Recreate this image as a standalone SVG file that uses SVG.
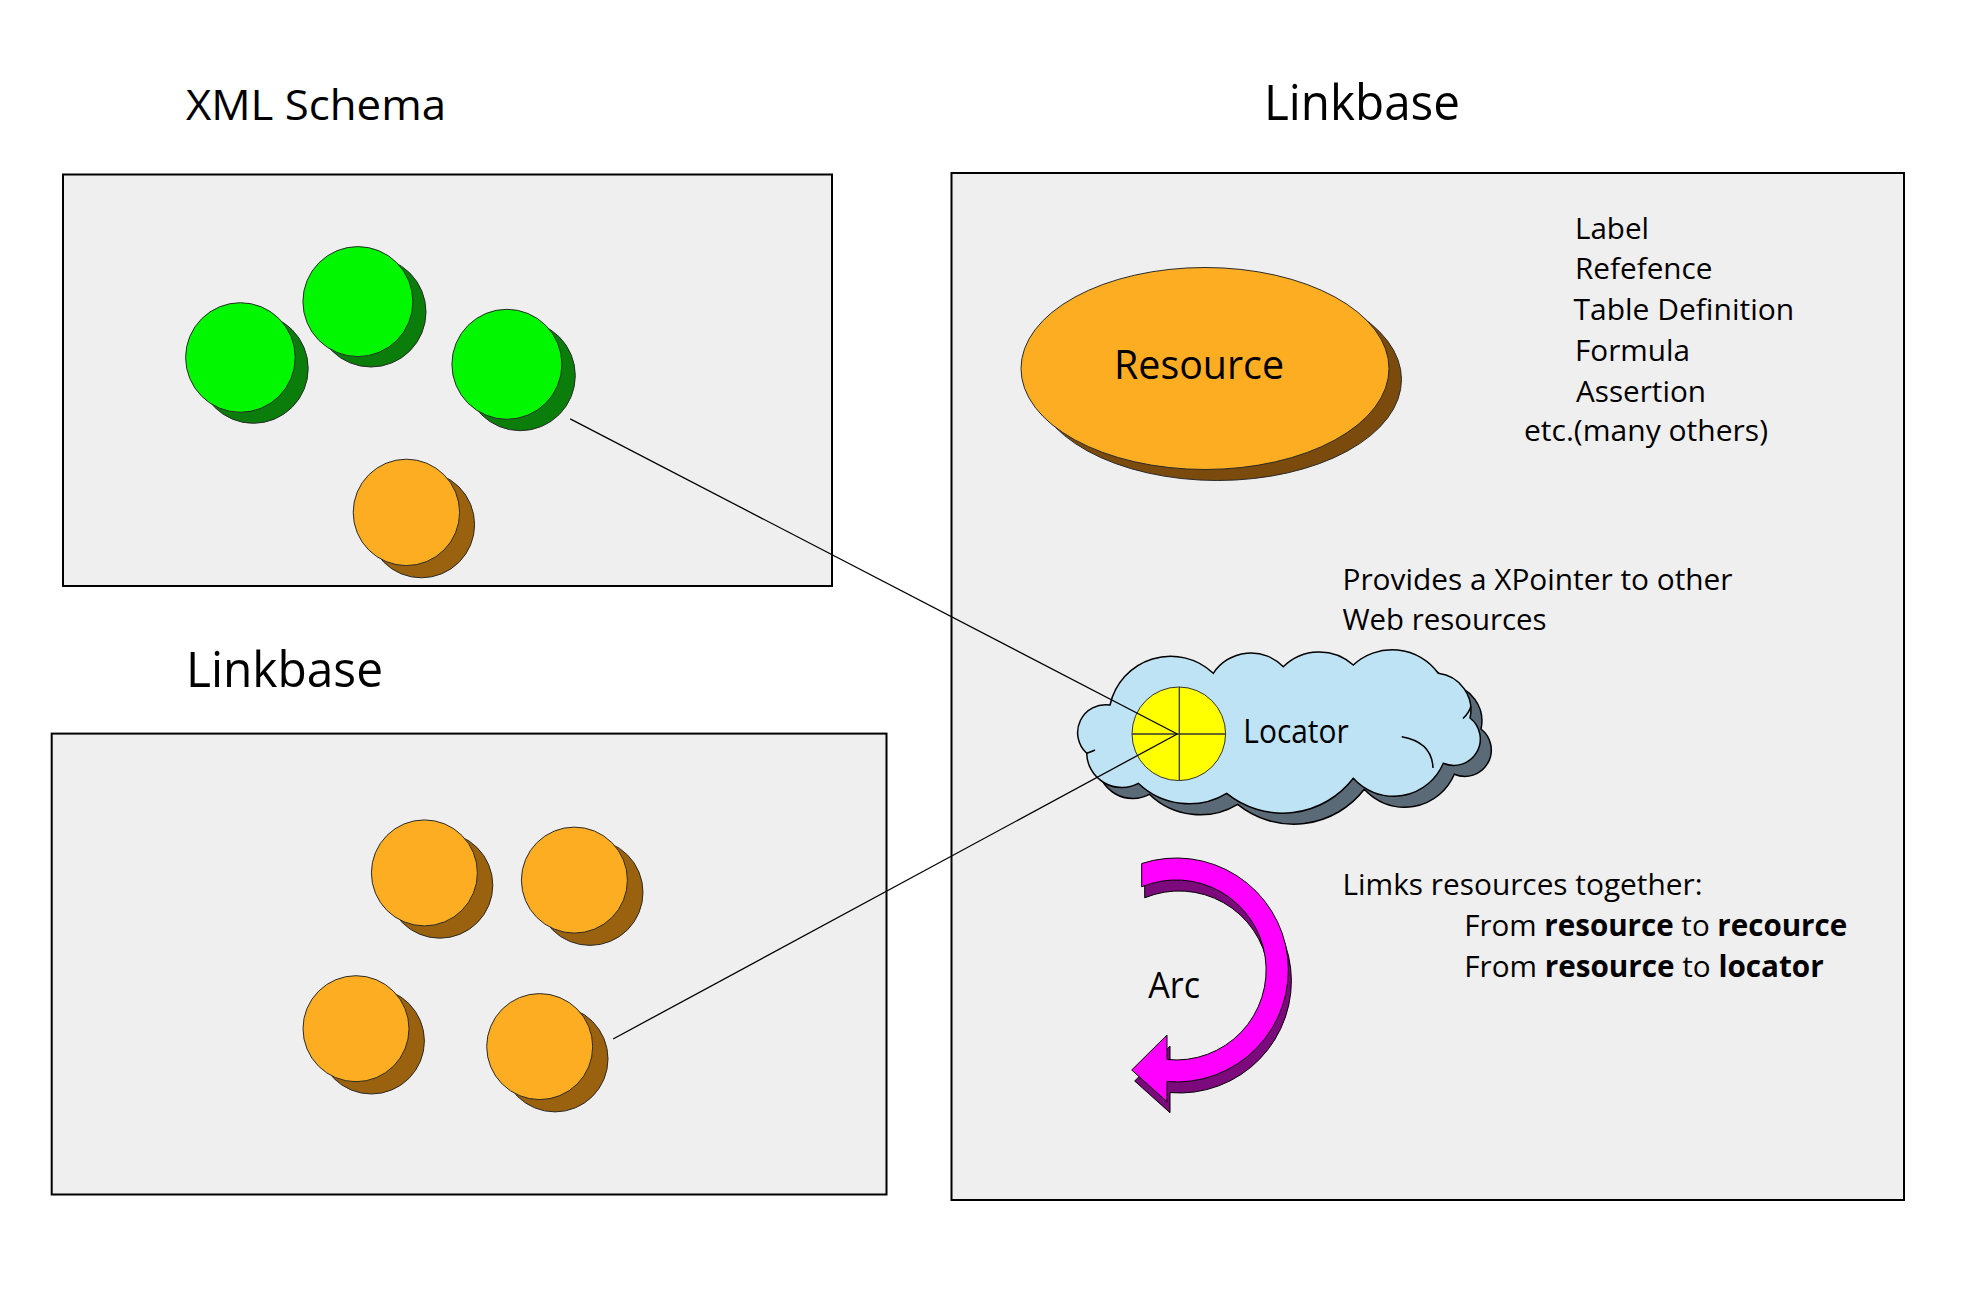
<svg xmlns="http://www.w3.org/2000/svg" width="1977" height="1294" viewBox="0 0 1977 1294">
<style>
  text { font-family: "Open Sans", "Liberation Sans", sans-serif; fill: #000; }
  .box { fill: #efefef; stroke: #000; stroke-width: 2; }
  .green { fill: #00f700; stroke: #2a2a2a; stroke-width: 1; }
  .greenSh { fill: #0a7d0a; stroke: #2a2a2a; stroke-width: 1; }
  .orange { fill: #fcad22; stroke: #2a2a2a; stroke-width: 1; }
  .orangeSh { fill: #9a620e; stroke: #2a2a2a; stroke-width: 1; }
  .conn { stroke: #000; stroke-width: 1.3; fill: none; }
  .t30 { font-size: 30px; }
</style>
<defs>
  <path id="cloudShape" d="M1110,705 A62,62 0 0 1 1213.3,673.3 A45,45 0 0 1 1283.3,666.7 A51,51 0 0 1 1353.3,665 A57,57 0 0 1 1438.3,673.3 A37,37 0 0 1 1470,718 A26.5,26.5 0 0 1 1443.3,763.3 A54,54 0 0 1 1353.3,778.3 A89,89 0 0 1 1226.7,793.3 A73,73 0 0 1 1138.3,783.3 A35,35 0 0 1 1086.7,753.3 A28,28 0 0 1 1110,705 Z"/>
  <path id="arcShape" d="M1141.7,863.5 A112,112 0 1 1 1167,1081.6 L1167,1101.7 L1131.7,1070 L1167,1035 L1167,1059.5 A90,90 0 1 0 1141.7,886.8 Z"/>
</defs>
<rect width="1977" height="1294" fill="#ffffff"/>

<!-- titles -->
<g id="title-xml-schema"><text x="186" y="120" font-size="42" textLength="260" lengthAdjust="spacingAndGlyphs">XML Schema</text></g>
<g id="title-linkbase-right"><text x="1264" y="120" font-size="50" textLength="196" lengthAdjust="spacingAndGlyphs">Linkbase</text></g>
<g id="title-linkbase-left"><text x="186" y="687" font-size="50" textLength="197" lengthAdjust="spacingAndGlyphs">Linkbase</text></g>

<!-- boxes -->
<g id="box-xml-schema"><rect class="box" x="63" y="174.5" width="769" height="411.5"/></g>
<g id="box-linkbase-left"><rect class="box" x="51.7" y="733.6" width="834.8" height="460.9"/></g>
<g id="box-linkbase-right"><rect class="box" x="951.5" y="173" width="952.5" height="1027"/></g>

<!-- XML schema nodes -->
<g id="schema-green-1"><circle class="greenSh" cx="253.4" cy="368.5" r="54.8"/><circle class="green" cx="240.4" cy="357.5" r="54.8"/></g>
<g id="schema-green-2"><circle class="greenSh" cx="371" cy="312" r="55"/><circle class="green" cx="357.9" cy="301.6" r="55"/></g>
<g id="schema-green-3"><circle class="greenSh" cx="520.3" cy="375.7" r="55"/><circle class="green" cx="506.9" cy="364.3" r="55"/></g>
<g id="schema-orange-1"><circle class="orangeSh" cx="421.4" cy="524.6" r="53.2"/><circle class="orange" cx="406.4" cy="512.4" r="53.2"/></g>

<!-- Linkbase left nodes -->
<g id="lb-orange-1"><circle class="orangeSh" cx="439.8" cy="885.2" r="53"/><circle class="orange" cx="424.4" cy="872.9" r="53"/></g>
<g id="lb-orange-2"><circle class="orangeSh" cx="590" cy="892.4" r="53"/><circle class="orange" cx="574.4" cy="880.1" r="53"/></g>
<g id="lb-orange-3"><circle class="orangeSh" cx="371.4" cy="1041" r="53"/><circle class="orange" cx="356" cy="1028.7" r="53"/></g>
<g id="lb-orange-4"><circle class="orangeSh" cx="555" cy="1058.9" r="53"/><circle class="orange" cx="539.7" cy="1046.6" r="53"/></g>

<!-- Resource -->
<g id="resource">
  <ellipse cx="1217.5" cy="379.5" rx="184" ry="101" fill="#7a4b0c" stroke="#2a2a2a" stroke-width="1"/>
  <ellipse cx="1205" cy="368.5" rx="184" ry="101" fill="#fcad22" stroke="#2a2a2a" stroke-width="1"/>
  <text x="1114" y="379" font-size="40" textLength="170" lengthAdjust="spacingAndGlyphs">Resource</text>
</g>

<g id="resource-types" class="t30">
  <text x="1575" y="238.5" textLength="74" lengthAdjust="spacingAndGlyphs">Label</text>
  <text x="1575" y="279.3" textLength="137.5" lengthAdjust="spacingAndGlyphs">Refefence</text>
  <text x="1573.5" y="320.2" textLength="220.7" lengthAdjust="spacingAndGlyphs">Table Definition</text>
  <text x="1575" y="361" textLength="115" lengthAdjust="spacingAndGlyphs">Formula</text>
  <text x="1576" y="401.5" textLength="130" lengthAdjust="spacingAndGlyphs">Assertion</text>
  <text x="1524" y="441" textLength="244" lengthAdjust="spacingAndGlyphs">etc.(many others)</text>
</g>

<g id="locator-desc" class="t30">
  <text x="1342.5" y="590" textLength="390" lengthAdjust="spacingAndGlyphs">Provides a XPointer to other</text>
  <text x="1342.5" y="630" textLength="204" lengthAdjust="spacingAndGlyphs">Web resources</text>
</g>

<!-- Locator -->
<g id="locator">
  <use href="#cloudShape" transform="translate(11,11)" fill="#5a6a77" stroke="#000" stroke-width="1.5"/>
  <use href="#cloudShape" fill="#bee3f4" stroke="#000" stroke-width="1.5"/>
  <path d="M1401.7,736.7 Q1432,742 1433,768" fill="none" stroke="#000" stroke-width="1.5"/>
  <path d="M1463,718.5 Q1469,713 1471,706" fill="none" stroke="#000" stroke-width="1.5"/>
  <path d="M1086.7,753.3 Q1091,752 1095,750" fill="none" stroke="#000" stroke-width="1.5"/>
  <circle cx="1178.8" cy="733.8" r="46.8" fill="#ffff00" stroke="#333" stroke-width="1"/>
  <line x1="1179.3" y1="687" x2="1179.3" y2="780.6" stroke="#333" stroke-width="1.3"/>
  <line x1="1132" y1="734" x2="1225.6" y2="734" stroke="#333" stroke-width="1.3"/>
  <text x="1243.3" y="743.3" font-size="32" textLength="105.4" lengthAdjust="spacingAndGlyphs">Locator</text>
</g>

<!-- Arc -->
<g id="arc">
  <use href="#arcShape" transform="translate(3,11)" fill="#7d0a7d" stroke="#000" stroke-width="1"/>
  <use href="#arcShape" fill="#ff00ff" stroke="#000" stroke-width="1"/>
  <text x="1148.3" y="998.3" font-size="36" textLength="51.7" lengthAdjust="spacingAndGlyphs">Arc</text>
</g>

<g id="arc-desc" class="t30">
  <text x="1342.5" y="894.6" textLength="360" lengthAdjust="spacingAndGlyphs">Limks resources together:</text>
  <text x="1464.2" y="935.8" textLength="383" lengthAdjust="spacingAndGlyphs">From <tspan font-weight="bold">resource</tspan> to <tspan font-weight="bold">recource</tspan></text>
  <text x="1464.2" y="977.1" textLength="359.5" lengthAdjust="spacingAndGlyphs">From <tspan font-weight="bold">resource</tspan> to <tspan font-weight="bold">locator</tspan></text>
</g>

<!-- connectors -->
<g id="connectors">
  <line class="conn" x1="570.2" y1="418.8" x2="1177.3" y2="734"/>
  <line class="conn" x1="613.1" y1="1039" x2="1177.3" y2="734"/>
</g>
</svg>
